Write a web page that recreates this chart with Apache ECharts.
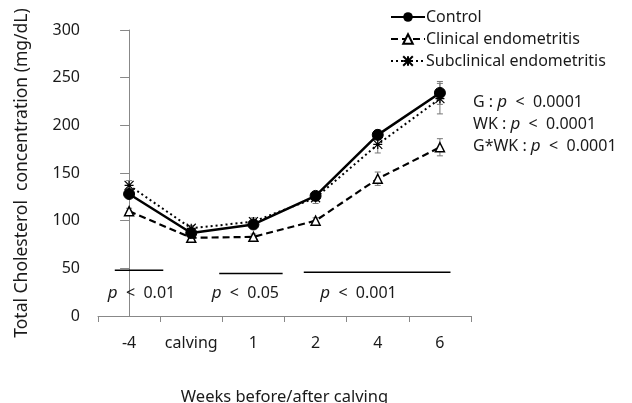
<!DOCTYPE html>
<html><head><meta charset="utf-8">
<script src="https://cdn.jsdelivr.net/npm/echarts@6/dist/echarts.min.js"></script>
<style>html,body{margin:0;padding:0;background:#fff;overflow:hidden}#c{width:632px;height:403px}</style>
</head><body><div id="c"></div>
<script>
var categories = ['-4', 'calving', '1', '2', '4', '6'];
var controlVals = [128, 87, 96, 126, 190, 234];
var clinicalVals = [110, 82, 83, 100, 144, 177];
var subclinVals = [137, 92, 99, 124, 180, 228];
var controlErr = [3, 3, 3, 3, 5, 12];
var clinicalErr = [3, 3, 3, 3, 7, 9];
var subclinErr = [5, 3, 4, 6, 9, 16];
var yTicks = [0, 50, 100, 150, 200, 250, 300];
// significance annotations: [xStart, xEnd, y] in category units
var sigLines = [[-0.23, 0.55, 48], [1.45, 2.47, 44.5], [2.81, 5.17, 46]];
var sigTexts = ['< 0.01', '< 0.05', '< 0.001'];
var sigTextPos = [[0.2, 24], [1.87, 24], [3.69, 24]];
var statTexts = ['G : ', 'WK : ', 'G*WK : '];
var statVals = ['< 0.0001', '< 0.0001', '< 0.0001'];

var FONT = 'Noto Sans';
var TXT = '#1a1a1a';
var el = document.getElementById('c');
var chart = echarts.init(el);

function errData(vals, errs) {
  return vals.map(function (v, i) { return [i, v - errs[i], v + errs[i]]; });
}
function errSeries(vals, errs) {
  return {
    type: 'custom', xAxisIndex: 0, yAxisIndex: 0, z: 1, silent: true,
    data: errData(vals, errs),
    renderItem: function (params, api) {
      var lo = api.coord([api.value(0), api.value(1)]);
      var hi = api.coord([api.value(0), api.value(2)]);
      var w = 3;
      var st = { stroke: '#777', lineWidth: 1 };
      return { type: 'group', children: [
        { type: 'line', shape: { x1: lo[0], y1: lo[1], x2: hi[0], y2: hi[1] }, style: st },
        { type: 'line', shape: { x1: lo[0] - w, y1: lo[1], x2: lo[0] + w, y2: lo[1] }, style: st },
        { type: 'line', shape: { x1: hi[0] - w, y1: hi[1], x2: hi[0] + w, y2: hi[1] }, style: st }
      ]};
    }
  };
}

var starPath = 'path://M0,0L10,10M10,0L0,10M5,0L5,10M0,5L10,5';

var option = {
  animation: false,
  textStyle: { fontFamily: FONT },
  grid: { left: 98, right: 161, top: 30, bottom: 87, containLabel: false, outerBoundsMode: 'none' },
  legend: {
    orient: 'vertical', left: 390, top: 9, padding: 0, itemWidth: 34, itemHeight: 12, itemGap: 6,
    data: ['Control', 'Clinical endometritis', 'Subclinical endometritis'],
    textStyle: { fontFamily: FONT, fontSize: 16, color: TXT, padding: [0, 0, 0, -4] }
  },
  xAxis: [{
    type: 'category', data: categories, boundaryGap: true,
    axisLine: { lineStyle: { color: '#888', width: 1 } },
    axisTick: { show: true, length: 6, interval: 0, lineStyle: { color: '#888' } },
    axisLabel: { margin: 19, interval: 0, fontFamily: FONT, fontSize: 16, color: TXT },
    name: 'Weeks before/after calving', nameLocation: 'middle', nameGap: 73,
    nameTextStyle: { fontFamily: FONT, fontSize: 16.5, color: TXT }
  }, {
    type: 'value', min: -0.5, max: 5.5, show: false
  }],
  yAxis: {
    type: 'value', min: 0, max: 300, interval: 50,
    axisLine: { show: true, lineStyle: { color: '#888', width: 1 } },
    axisTick: { show: true, length: 9, lineStyle: { color: '#888' } },
    splitLine: { show: false },
    axisLabel: { margin: 18, fontFamily: FONT, fontSize: 16, color: TXT,
      formatter: function (v) { return yTicks.indexOf(v) >= 0 ? String(v) : ''; } },
    name: 'Total Cholesterol  concentration (mg/dL)', nameLocation: 'middle', nameGap: 67,
    nameTextStyle: { fontFamily: FONT, fontSize: 17.5, color: TXT }
  },
  graphic: statTexts.map(function (t, i) {
    return {
      type: 'text', left: 473, top: 94 + i * 22,
      style: { rich: { a: { fontFamily: FONT, fontSize: 16, fill: TXT }, p: { fontFamily: FONT, fontSize: 17, fontStyle: 'italic', fill: TXT } },
        text: '{a|' + t + '}{p|p}{a|  ' + statVals[i].replace(' ', '  ') + '}' }
    };
  }),
  series: [
    errSeries(controlVals, controlErr),
    errSeries(clinicalVals, clinicalErr),
    errSeries(subclinVals, subclinErr),
    {
      name: 'Subclinical endometritis', type: 'line', data: subclinVals, z: 3,
      symbol: starPath, symbolSize: 9, showAllSymbol: true,
      lineStyle: { color: '#000', width: 2, type: [2, 3] },
      itemStyle: { color: 'rgba(0,0,0,0)', borderColor: '#000', borderWidth: 1.2 }
    },
    {
      name: 'Clinical endometritis', type: 'line', data: clinicalVals, z: 4,
      symbol: 'triangle', symbolSize: 9,
      lineStyle: { color: '#000', width: 2.2, type: [7, 4] },
      itemStyle: { color: '#fff', borderColor: '#000', borderWidth: 1.5 }
    },
    {
      name: 'Control', type: 'line', data: controlVals, z: 5,
      symbol: 'circle', symbolSize: 11,
      lineStyle: { color: '#000', width: 2.5, type: 'solid' },
      itemStyle: { color: '#000', borderColor: '#000' }
    },
    {
      type: 'custom', xAxisIndex: 1, yAxisIndex: 0, silent: true, z: 2,
      data: sigLines.map(function (s, i) { return [s[0], s[1], s[2], sigTextPos[i][0], sigTextPos[i][1], i]; }),
      renderItem: function (params, api) {
        var a = api.coord([api.value(0), api.value(2)]);
        var b = api.coord([api.value(1), api.value(2)]);
        var t = api.coord([api.value(3), api.value(4)]);
        var idx = api.value(5);
        return { type: 'group', children: [
          { type: 'line', shape: { x1: a[0], y1: a[1], x2: b[0], y2: b[1] }, style: { stroke: '#000', lineWidth: 1.5 } },
          { type: 'text', x: t[0], y: t[1], style: {
              text: '{p|p}{a|  ' + sigTexts[idx].replace(' ', '  ') + '}', align: 'center', verticalAlign: 'middle',
              rich: { a: { fontFamily: FONT, fontSize: 16, fill: TXT }, p: { fontFamily: FONT, fontSize: 17, fontStyle: 'italic', fill: TXT } }
          } }
        ]};
      }
    }
  ]
};
chart.setOption(option);
</script></body></html>
